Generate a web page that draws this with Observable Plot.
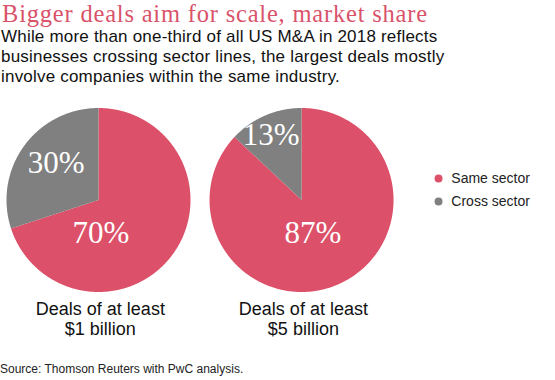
<!DOCTYPE html>
<html><head><meta charset="utf-8">
<script src="https://cdn.jsdelivr.net/npm/d3@7"></script>
<script src="https://cdn.jsdelivr.net/npm/@observablehq/plot@0.6"></script>
<style>
body{margin:0;background:#fff;width:555px;height:380px;position:relative;overflow:hidden;font-family:"Liberation Sans",Arial,sans-serif;}
#title{position:absolute;left:2px;top:0.3px;font-family:"Liberation Serif",serif;font-size:24.5px;letter-spacing:0.8px;line-height:27.2px;color:#d9536b;white-space:nowrap}
#sub{position:absolute;left:1px;top:27px;font-size:17px;letter-spacing:0.2px;line-height:20px;color:#111;white-space:nowrap}
#chart{position:absolute;left:0;top:92px}
#source{position:absolute;left:0;top:362px;font-size:12px;color:#222;white-space:nowrap}
</style></head><body>
<div id="title">Bigger deals aim for scale, market share</div>
<div id="sub">While more than one-third of all US M&amp;A in 2018 reflects<br>businesses crossing sector lines, the largest deals mostly<br>involve companies within the same industry.</div>
<div id="chart"></div>
<div id="source">Source: Thomson Reuters with PwC analysis.</div>
<script>
// ---- data ----
const pies = ["Deals of at least\n$1 billion", "Deals of at least\n$5 billion"];
const sectors = ["Same sector", "Cross sector"];
const sameShare = [70, 87];
const crossShare = [30, 13];
const colors = ["#dc5169", "#808080"];

// ---- layout ----
const W = 555, H = 255, R = 92;          // px per radius unit
const cxPx = 98, cyPx = 107.5;           // first pie centre in svg px
const spacing = 2.207;                   // centre-to-centre in radius units
const labelPlace = {"0-0": [176, 0.36], "0-1": [311, 0.61], "1-0": [161, 0.38], "1-1": [335, 0.78]};
const legendX = 3.696, legendY0 = 0.234, legendStep = 0.25;

const wedges = [], labels = [];
pies.forEach((p, i) => {
  const vals = [sameShare[i], crossShare[i]];
  const total = d3.sum(vals);
  let acc = 0;
  const cx = i * spacing;
  vals.forEach((v, j) => {
    const a0 = acc / total * 2 * Math.PI, a1 = (acc + v) / total * 2 * Math.PI;
    acc += v;
    const key = i + "-" + j;
    wedges.push({key, sector: sectors[j], x: cx, y: 0});
    const n = Math.max(2, Math.ceil((a1 - a0) / (Math.PI / 360)));
    for (let k = 0; k <= n; k++) {
      const a = a0 + (a1 - a0) * k / n;
      wedges.push({key, sector: sectors[j], x: cx + Math.sin(a), y: Math.cos(a)});
    }
    wedges.push({key, sector: sectors[j], x: cx, y: 0});
    const [ang, r] = labelPlace[key];
    const ar = ang * Math.PI / 180;
    labels.push({text: v + "%", x: cx + r * Math.sin(ar), y: r * Math.cos(ar)});
  });
});

const chart = Plot.plot({
  width: W, height: H,
  marginTop: 0, marginRight: 0, marginBottom: 0, marginLeft: 0,
  x: {domain: [-cxPx / R, (W - cxPx) / R], axis: null},
  y: {domain: [-(H - cyPx) / R, cyPx / R], axis: null},
  color: {domain: sectors, range: colors},
  style: {background: "transparent", overflow: "visible"},
  marks: [
    Plot.line(wedges, {x: "x", y: "y", z: "key", fill: "sector", stroke: "none", curve: "linear"}),
    Plot.text(labels, {x: "x", y: "y", text: "text", fill: "white", fontSize: 31, fontFamily: "Liberation Serif"}),
    Plot.text(pies, {x: (d, i) => i * spacing + 0.02, y: () => -1.288, text: d => d, fontSize: 18, lineHeight: 1.12, fill: "#111", fontFamily: "Liberation Sans"}),
    Plot.dot(sectors, {x: () => legendX, y: (d, i) => legendY0 - i * legendStep, fill: d => d, r: 4, stroke: "none"}),
    Plot.text(sectors, {x: () => legendX + 0.139, y: (d, i) => legendY0 - i * legendStep, text: d => d, textAnchor: "start", fontSize: 14, fill: "#222", fontFamily: "Liberation Sans"})
  ]
});
document.getElementById("chart").append(chart);
</script>
</body></html>
